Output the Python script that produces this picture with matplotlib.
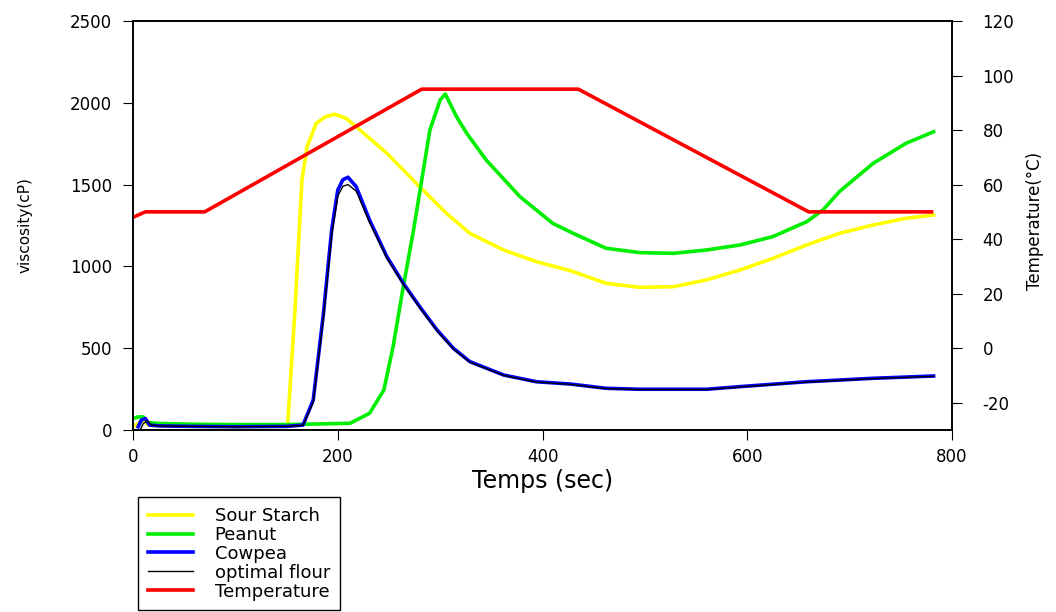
import matplotlib.pyplot as plt
import numpy as np

plt.rcParams['font.family'] = ['DejaVu Sans']
plt.rcParams['axes.unicode_minus'] = False

# Sour Starch (yellow)
t_sour = [0, 5, 10, 15, 25, 60, 100, 140, 151, 158, 165, 170, 179, 188, 197, 208, 218, 248, 280, 306,
          329, 362, 394, 427, 462, 495, 528, 560, 593, 625, 658, 690, 723, 755, 782]
v_sour = [20, 40, 60, 30, 25, 22, 20, 22, 30, 715, 1528, 1732, 1875, 1915, 1930, 1905, 1854, 1691, 1487, 1325,
          1202, 1100, 1029, 974, 897, 872, 876, 917, 978, 1049, 1131, 1202, 1253, 1294, 1314]

# Peanut (green)
t_pea = [0, 5, 10, 15, 25, 60, 100, 150, 212, 231, 245, 254, 264, 274, 282, 290, 300, 305, 316, 326,
         345, 378, 410, 430, 462, 495, 528, 560, 593, 625, 658, 674, 690, 723, 755, 782]
v_pea = [70, 80, 80, 45, 40, 35, 33, 33, 41, 102, 244, 509, 876, 1222, 1528, 1834, 2017, 2054, 1915, 1813,
         1650, 1426, 1263, 1202, 1111, 1084, 1080, 1100, 1131, 1182, 1273, 1345, 1457, 1630, 1752, 1823]

# Cowpea (blue)
t_cow = [5, 8, 12, 16, 25, 60, 100, 150, 166, 176, 186, 194, 200, 205, 210, 218, 231, 248, 264, 280,
         297, 313, 329, 362, 394, 427, 462, 495, 560, 593, 658, 723, 782]
v_cow = [20, 60, 70, 30, 25, 22, 20, 22, 30, 183, 713, 1222, 1467, 1530, 1545, 1487, 1284, 1059, 897, 754,
         611, 499, 418, 336, 295, 281, 255, 249, 249, 265, 295, 316, 330]

# optimal flour (black)
t_opt = [7, 10, 14, 18, 25, 60, 100, 150, 166, 176, 186, 194, 200, 205, 210, 218, 231, 248, 264, 280,
         297, 313, 329, 362, 394, 427, 462, 495, 560, 593, 658, 723, 782]
v_opt = [0, 40, 55, 30, 25, 22, 20, 22, 28, 170, 690, 1190, 1430, 1490, 1500, 1460, 1270, 1050, 890, 748,
         606, 495, 415, 334, 293, 279, 253, 247, 247, 263, 293, 314, 328]

# Temperature (red, right axis)
t_temp = [0, 12, 70, 282, 435, 660, 780]
temp = [48, 50, 50, 95, 95, 50, 50]

fig = plt.figure(figsize=(10.56, 6.12), dpi=100)
ax = fig.add_axes([0.126, 0.2974, 0.7755, 0.6683])
ax.plot(t_sour, v_sour, color='#ffff00', lw=2.6, label='Sour Starch')
ax.plot(t_pea, v_pea, color='#00ee00', lw=2.6, label='Peanut')
ax.plot(t_cow, v_cow, color='#0000ff', lw=2.6, label='Cowpea')
ax.plot(t_opt, v_opt, color='black', lw=1.0, label='optimal flour')
ax.set_xlim(0, 800)
ax.set_ylim(0, 2500)
ax.set_xticks([0, 200, 400, 600, 800])
ax.set_yticks([0, 500, 1000, 1500, 2000, 2500])
ax.tick_params(axis='y', direction='out', length=7, pad=8, labelsize=12)
ax.tick_params(axis='x', direction='out', length=7, pad=6, labelsize=12)
ax.set_xlabel('Temps (sec)', fontsize=17)
ax.xaxis.set_label_coords(0.5, -0.125)
ax.xaxis.label.set_va('center')
ax.set_ylabel('viscosity(cP)', fontsize=11)
ax.yaxis.set_label_coords(-0.132, 0.5)
ax.yaxis.label.set_va('center')

ax2 = ax.twinx()
ax2.plot(t_temp, temp, color='#ff0000', lw=2.6, label='Temperature')
ax2.set_ylim(-30, 120)
ax2.set_yticks(np.arange(-20, 121, 20))
ax2.tick_params(direction='out', length=7, pad=15, labelsize=12)
ax2.set_ylabel('Temperature(°C)', fontsize=12)
ax2.yaxis.set_label_coords(1.101, 0.51)
ax2.yaxis.label.set_va('center')

for a in (ax, ax2):
    for s in a.spines.values():
        s.set_linewidth(1.2)

h1, l1 = ax.get_legend_handles_labels()
h2, l2 = ax2.get_legend_handles_labels()
fig.legend(h1 + h2, l1 + l2, loc='upper left', bbox_to_anchor=(138 / 1056, 1 - 497 / 612),
           borderaxespad=0, fontsize=13, frameon=True, fancybox=False, edgecolor='black',
           framealpha=1, handlelength=2.5, handletextpad=1.2, labelspacing=0.05, borderpad=0.55)

fig.savefig('out.png', dpi=100)
